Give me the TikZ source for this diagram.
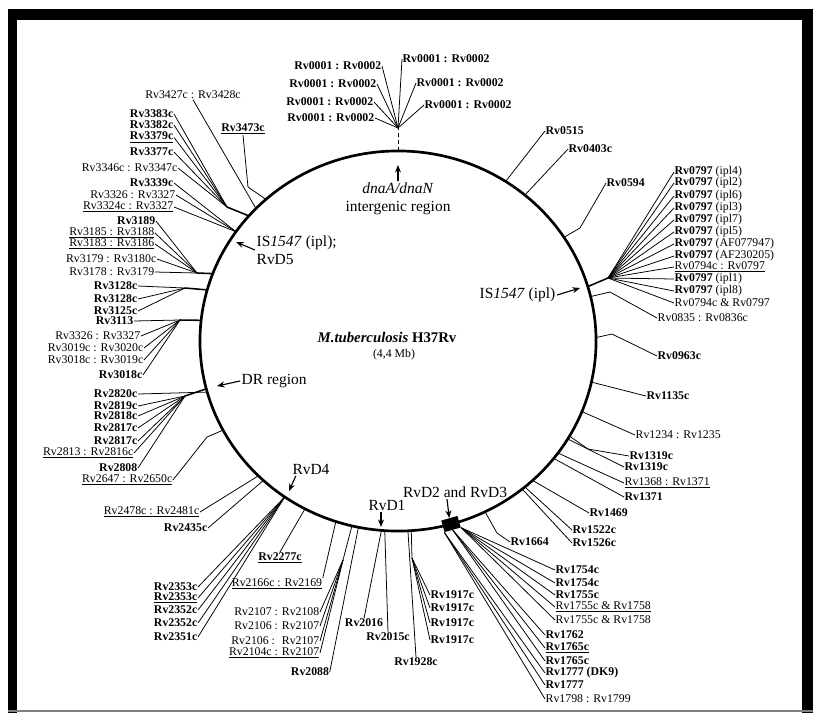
\documentclass[tikz,border=0pt]{standalone}
\usepackage{fontspec}
\setmainfont{Liberation Serif}
\usetikzlibrary{arrows.meta, calc, positioning, shapes.geometric}
\newcommand\lblsize{\fontsize{8.4}{9}\selectfont}
\newcommand\regsize{\fontsize{11}{12.6}\selectfont}

\begin{document}
\begin{tikzpicture}[x=0.025cm, y=-0.025cm,
    lbl/.style={font=\lblsize, inner sep=0.3pt},
    ll/.style={lbl, anchor=east},
    lr/.style={lbl, anchor=west},
    reg/.style={font=\regsize, inner sep=1pt},
    ray/.style={line width=0.55pt},
    trunk/.style={line width=1.1pt},
    arr/.style={-{Stealth[length=1.9mm, width=1.5mm]}, line width=0.8pt}
  ]
  \useasboundingbox (0,0) rectangle (813,713);
  \fill (8,9) rectangle (813,20);
  \fill (8,9) rectangle (17,713);
  \fill (802,9) rectangle (813,713);
  \draw[gray, line width=1pt] (8,711) -- (813,711);

  \node[draw, ellipse, line width=1.9pt, minimum width=9.9cm, minimum height=9.5cm,
        inner sep=0pt, outer sep=0pt] (chr) at (398,341) {};
  \node[font=\fontsize{10.5}{12}\selectfont\bfseries] (title) at (387,337) {\textit{M.tuberculosis} H37Rv};
  \node[font=\fontsize{8.4}{10}\selectfont] (size) at (394,355) {(4,4 Mb)};

  % origin
  \node[reg, align=center] (ori) at (398,199) {\textit{dnaA/dnaN}\\intergenic region};
  \coordinate (oritip) at (398,165);
  \draw[arr] (ori.north) -- (oritip);
  \coordinate (orihub) at (398,128);
  \draw[ray, densely dashed] (chr.90) -- (orihub);
  \foreach \n/\a/\x/\y in {o1/west/402/59, o2/east/382/66, o3/west/416/83, o4/east/377/84,
                           o5/east/374/102, o6/west/424/105, o7/east/375/118} {
    \node[lbl, anchor=\a] (\n) at (\x,\y) {\textbf{Rv0001 : Rv0002}};
    \draw[ray] (orihub) -- (\n.\a);
  }

  % right side
  \foreach \n/\ang/\x/\y/\t in {r0515/56.3/545/131/{\textbf{Rv0515}},
      r0403/49.4/568/149/{\textbf{Rv0403c}}, r1135/-12.2/646/396/{\textbf{Rv1135c}},
      r1234/-21.6/635/435/{Rv1234 : Rv1235}, r1319b/-30/624/467/{\textbf{Rv1319c}},
      r1368/-35/624/483/{\underline{Rv1368 : Rv1371}}, r1371/-37/624/497/{\textbf{Rv1371}},
      r1469/-46/589/513/{\textbf{Rv1469}}, r1522/-49.5/572/530/{\textbf{Rv1522c}},
      r1526/-50.5/572/543/{\textbf{Rv1526c}}} {
    \node[lr] (\n) at (\x,\y) {\t};
    \draw[ray] (chr.\ang) -- (\n.west);
  }
  \node[lr] (r0594) at (606,183) {\textbf{Rv0594}};
  \draw[ray] (chr.32.2) -- (580,228) -- (r0594.west);
  \node[lr] (r0835) at (657,318) {Rv0835 : Rv0836c};
  \draw[ray] (chr.13.3) -- (610,292) -- (r0835.west);
  \node[lr] (r0963) at (657,356) {\textbf{Rv0963c}};
  \draw[ray] (chr.1.7) -- (612,334) -- (r0963.west);
  \node[lr] (r1319a) at (629,456) {\textbf{Rv1319c}};
  \draw[ray] (chr.-29.2) -- (588,449) -- (r1319a.west);
  \node[lr] (r1664) at (510,542) {\textbf{Rv1664}};
  \draw[ray] (chr.-63.4) -- (497,533) -- (r1664.west);

  \coordinate (iphub) at (608,278);
  \draw[trunk] (chr.16.4) -- (iphub);
  \foreach \y/\t [count=\i] in {172/{\textbf{Rv0797} (ipl4)}, 183/{\textbf{Rv0797} (ipl2)},
      196/{\textbf{Rv0797} (ipl6)}, 208/{\textbf{Rv0797} (ipl3)}, 220/{\textbf{Rv0797} (ipl7)},
      232/{\textbf{Rv0797} (ipl5)}, 244/{\textbf{Rv0797} (AF077947)},
      256/{\textbf{Rv0797} (AF230205)}, 267/{\underline{Rv0794c : Rv0797}},
      279/{\textbf{Rv0797} (ipl1)}, 291/{\textbf{Rv0797} (ipl8)}, 303/{Rv0794c \& Rv0797}} {
    \node[lr] (ip\i) at (674,\y) {\t};
    \draw[ray] (iphub) -- (ip\i.west);
  }
  \node[reg, anchor=east] (isr) at (557,295) {IS\textit{1547} (ipl)};
  \coordinate (isrtip) at (580,288);
  \draw[arr] (isr.east) -- (isrtip);

  % RvD2 and RvD3
  \node[fill, minimum width=0.42cm, minimum height=0.3cm, inner sep=0pt, rotate=16] (blk) at (451,524) {};
  \node[reg] (rvd23) at (455,492) {RvD2 and RvD3};
  \draw[arr] ($(rvd23.south)+(-8,0)$) -- (blk.north);
  \foreach \x/\y/\a/\t [count=\i] in {555/570/south east/{\textbf{Rv1754c}},
      555/583/south east/{\textbf{Rv1754c}}, 555/595/south east/{\textbf{Rv1755c}},
      555/607/south east/{\underline{Rv1755c \& Rv1758}}, 555/620/south east/{Rv1755c \& Rv1758},
      545/635/south/{\textbf{Rv1762}}, 545/648/south/{\underline{\textbf{Rv1765c}}},
      545/661/south/{\textbf{Rv1765c}}, 545/673/south west/{\textbf{Rv1777 (DK9)}},
      545/685/south west/{\textbf{Rv1777}}, 545/699/south west/{Rv1798 : Rv1799}} {
    \node[lr] (bd\i) at (\x,\y) {\t};
    \draw[ray] (blk.\a) -- (bd\i.west);
  }

  % bottom
  \node[reg] (rvd1) at (387,505) {RvD1};
  \coordinate (d1tip) at (381,527);
  \draw[arr] (rvd1.south -| d1tip) -- (d1tip);
  \coordinate (hub1917) at (412,558);
  \draw[ray] (chr.-86.4) -- (hub1917);
  \foreach \y [count=\i] in {595,608,623,640} {
    \node[lr] (r1917\i) at (430,\y) {\textbf{Rv1917c}};
    \draw[ray] (hub1917) -- (r1917\i.west);
  }
  \node[lbl] (r1928) at (416,662) {\textbf{Rv1928c}};
  \draw[ray] (chr.-87.3) -- (r1928.north);
  \node[lbl] (r2016) at (364,623) {\textbf{Rv2016}};
  \draw[ray] (chr.-95.6) -- (r2016.north);
  \node[lbl] (r2015) at (388,637) {\textbf{Rv2015c}};
  \draw[ray] (chr.-94.8) -- (r2015.north);
  \node[lbl] (r2088) at (310,672) {\textbf{Rv2088}};
  \draw[ray] (chr.-102.5) -- (r2088.east);
  \coordinate (hub2107) at (343,560);
  \draw[ray] (chr.-104) -- (hub2107);
  \foreach \y/\t [count=\i] in {612/{Rv2107 : Rv2108}, 626/{Rv2106 : Rv2107},
      641/{Rv2106 : \ Rv2107}, 653/{\underline{Rv2104c : Rv2107}}} {
    \node[ll] (r2107\i) at (320,\y) {\t};
    \draw[ray] (hub2107) -- (r2107\i.east);
  }
  \node[lbl] (r2166) at (277,584) {\underline{Rv2166c : Rv2169}};
  \draw[ray] (chr.-109.2) -- (r2166.north east);
  \node[lbl] (r2277) at (280,558) {\underline{\textbf{Rv2277c}}};
  \draw[ray] (chr.-119.3) -- (r2277.north);
  \foreach \y/\t [count=\i] in {587/{\textbf{Rv2353c}}, 598/{\underline{\textbf{Rv2353c}}},
      610/{\textbf{Rv2352c}}, 623/{\textbf{Rv2352c}}, 637/{\textbf{Rv2351c}}} {
    \node[ll] (r235\i) at (198,\y) {\t};
    \draw[ray] (chr.-126.5) -- (r235\i.east);
  }
  \node[reg] (rvd4) at (311,469) {RvD4};
  \coordinate (d4tip) at (289,491);
  \draw[arr] ($(rvd4.south west)+(5,0)$) -- (d4tip);

  % left side
  \node[ll] (r2435) at (208,528) {\textbf{Rv2435c}};
  \draw[ray] (chr.-134.2) -- (r2435.east);
  \node[ll] (r2478) at (200,512) {\underline{Rv2478c : Rv2481c}};
  \draw[ray] (chr.-136.5) -- (r2478.east);
  \node[ll] (r2647) at (173,480) {\underline{Rv2647 : Rv2650c}};
  \draw[ray] (chr.-153.7) -- (207,437) -- (r2647.east);

  \node[reg, anchor=west] (drlbl) at (240,381) {DR region};
  \coordinate (drtip) at (217,386);
  \draw[arr] (drlbl.west) -- (drtip);
  \node[ll] (r2820) at (138,394) {\textbf{Rv2820c}};
  \draw[ray] (r2820.east) -- (chr.-165);
  \coordinate (drhub) at (185,396);
  \draw[trunk] (drhub) -- (chr.-166);
  \foreach \x/\y/\t [count=\i] in {138/406/{\textbf{Rv2819c}}, 138/416/{\textbf{Rv2818c}},
      138/428/{\textbf{Rv2817c}}, 138/441/{\textbf{Rv2817c}},
      134/453/{\underline{Rv2813 : Rv2816c}}, 138/468/{\textbf{Rv2808}}} {
    \node[ll] (dr\i) at (\x,\y) {\t};
    \draw[ray] (drhub) -- (dr\i.east);
  }

  \coordinate (hub3018) at (180,320);
  \draw[trunk] (hub3018) -- (chr.174.5);
  \foreach \x/\y/\t [count=\i] in {134/321/{\textbf{Rv3113}}, 141/336/{Rv3326 : Rv3327},
      144/348/{Rv3019c : Rv3020c}, 144/360/{Rv3018c : Rv3019c}, 143/375/{\textbf{Rv3018c}}} {
    \node[ll] (r30\i) at (\x,\y) {\t};
    \draw[ray] (hub3018) -- (r30\i.east);
  }
  \coordinate (hub3128) at (185,288);
  \draw[trunk] (hub3128) -- (chr.165.6);
  \foreach \y/\t [count=\i] in {286/{\textbf{Rv3128c}}, 299/{\textbf{Rv3128c}},
      311/{\textbf{Rv3125c}}} {
    \node[ll] (r31\i) at (138,\y) {\t};
    \draw[ray] (hub3128) -- (r31\i.east);
  }
  \coordinate (hub3189) at (197,273);
  \draw[trunk] (hub3189) -- (chr.160.5);
  \foreach \x/\y/\t [count=\i] in {156/221/{\textbf{Rv3189}}, 155/233/{\underline{Rv3185 : Rv3188}},
      155/244/{\underline{Rv3183 : Rv3186}}, 157/259/{Rv3179 : Rv3180c},
      155/272/{Rv3178 : Rv3179}} {
    \node[ll] (r318\i) at (\x,\y) {\t};
    \draw[ray] (hub3189) -- (r318\i.east);
  }

  \node[reg, anchor=west, align=left] (isl) at (255,250) {IS\textit{1547} (ipl);\\RvD5};
  \coordinate (isltip) at (236,242);
  \draw[arr] (isl.west) -- (isltip);

  \foreach \x/\y/\t [count=\i] in {174/183/{\textbf{Rv3339c}}, 176/195/{Rv3326 : Rv3327},
      174/207/{\underline{Rv3324c : Rv3327}}} {
    \node[ll] (r333\i) at (\x,\y) {\t};
    \draw[ray] (chr.146.5) -- (r333\i.east);
  }
  \coordinate (hub3383) at (227,207);
  \draw[trunk] (hub3383) -- (chr.140.6);
  \foreach \x/\y/\t [count=\i] in {174/114/{\textbf{Rv3383c}}, 174/125/{\textbf{Rv3382c}},
      174/137.5/{\underline{\textbf{Rv3379c}}}, 174/152/{\textbf{Rv3377c}},
      178/168/{Rv3346c : Rv3347c}} {
    \node[ll] (r338\i) at (\x,\y) {\t};
    \draw[ray] (hub3383) -- (r338\i.east);
  }
  \node[lbl] (r3427) at (193,95) {Rv3427c : Rv3428c};
  \draw[ray] (r3427.south) -- (chr.137.5);
  \node[lbl] (r3473) at (243,129) {\underline{\textbf{Rv3473c}}};
  \draw[ray] (r3473.south) -- (248,187) -- (chr.133.6);
\end{tikzpicture}
\end{document}
